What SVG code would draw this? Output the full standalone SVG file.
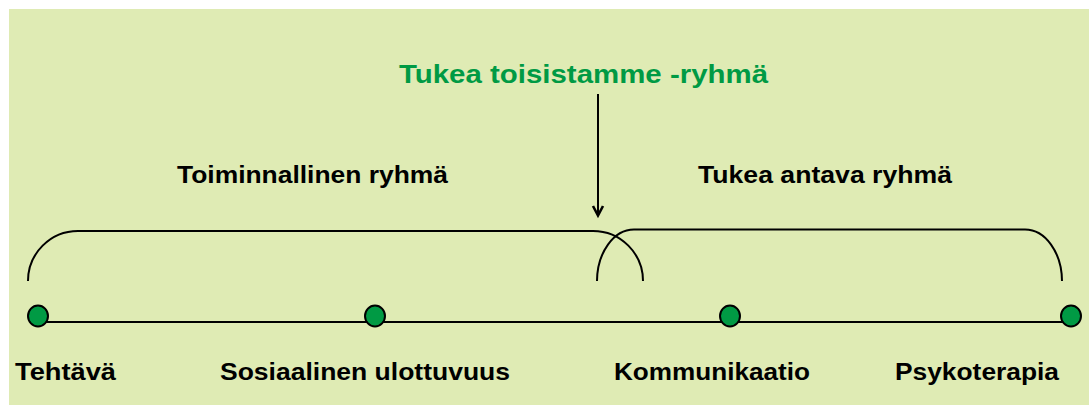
<svg xmlns="http://www.w3.org/2000/svg" width="1089" height="405" viewBox="0 0 1089 405">
  <style>
    .lbl { font-family: "Liberation Sans", Arial, sans-serif; font-weight: bold; fill: #000; }
    .title { font-family: "Liberation Sans", Arial, sans-serif; font-weight: bold; fill: #009A44; }
    .stroke { fill: none; stroke: #000; stroke-width: 2; }
    .head { fill: none; stroke: #000; stroke-width: 2.6; stroke-linejoin: miter; }
    .dot { fill: #009A44; stroke: #000; stroke-width: 2; }
  </style>
  <rect x="0" y="0" width="1089" height="405" fill="#ffffff"/>
  <rect x="9" y="9" width="1080" height="396" fill="#DFEBB4"/>

  <g id="connectors">
    <!-- axis line -->
    <line class="stroke" x1="38" y1="322" x2="1071" y2="322"/>
    <!-- braces -->
    <path class="stroke" d="M28,281 A50,50 0 0 1 78,231 H593 A50,50 0 0 1 643,281"/>
    <path class="stroke" d="M597,281 A37,52 0 0 1 634,229.5 H1025 A37,52 0 0 1 1062,281"/>
    <!-- arrow -->
    <line class="stroke" x1="598" y1="94" x2="598" y2="215"/>
    <path class="head" d="M593,206 L598,215.5 L603,206"/>
  </g>

  <g id="title">
    <text class="title" x="399" y="83" font-size="25" textLength="369" lengthAdjust="spacingAndGlyphs">Tukea toisistamme -ryhmä</text>
  </g>
  <g id="group-left">
    <text class="lbl" x="177" y="183" font-size="23" textLength="271" lengthAdjust="spacingAndGlyphs">Toiminnallinen ryhmä</text>
  </g>
  <g id="group-right">
    <text class="lbl" x="698" y="183" font-size="23" textLength="254" lengthAdjust="spacingAndGlyphs">Tukea antava ryhmä</text>
  </g>

  <g id="node-tehtava">
    <ellipse class="dot" cx="38" cy="316" rx="10" ry="10.5"/>
    <text class="lbl" x="15" y="380" font-size="23" textLength="101" lengthAdjust="spacingAndGlyphs">Tehtävä</text>
  </g>
  <g id="node-sosiaalinen">
    <ellipse class="dot" cx="375" cy="316" rx="10" ry="10.5"/>
    <text class="lbl" x="220" y="380" font-size="23" textLength="290" lengthAdjust="spacingAndGlyphs">Sosiaalinen ulottuvuus</text>
  </g>
  <g id="node-kommunikaatio">
    <ellipse class="dot" cx="730" cy="316" rx="10" ry="10.5"/>
    <text class="lbl" x="614" y="380" font-size="23" textLength="196" lengthAdjust="spacingAndGlyphs">Kommunikaatio</text>
  </g>
  <g id="node-psykoterapia">
    <ellipse class="dot" cx="1071" cy="316" rx="10" ry="10.5"/>
    <text class="lbl" x="895" y="380" font-size="23" textLength="164" lengthAdjust="spacingAndGlyphs">Psykoterapia</text>
  </g>
</svg>
